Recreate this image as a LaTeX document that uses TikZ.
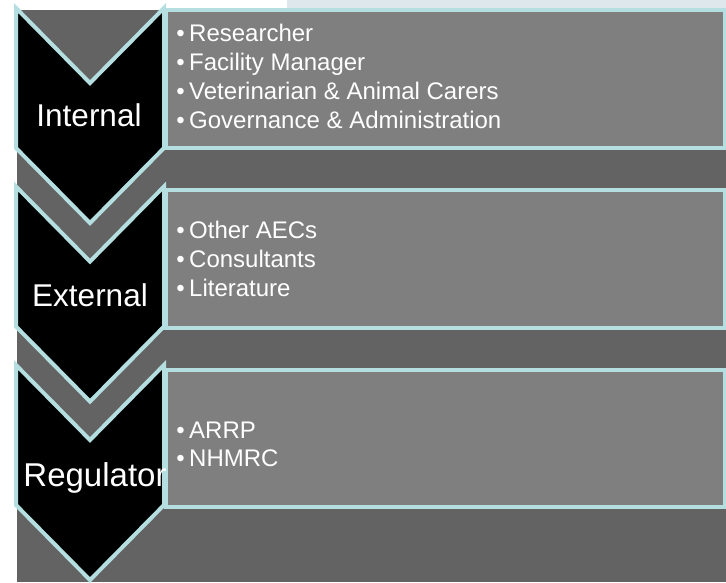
\documentclass[tikz,border=0pt]{standalone}
\usepackage{fontspec}
\setmainfont{Liberation Sans}
\definecolor{bgray}{HTML}{636363}
\definecolor{boxgray}{HTML}{7F7F7F}
\definecolor{edgecyan}{HTML}{B4DEE0}
\definecolor{stripcol}{HTML}{DEE7EC}
\begin{document}
\begin{tikzpicture}[x=1pt,y=-1pt,
  chev/.style={fill=black,draw=edgecyan,line width=4pt,line join=miter},
  itembox/.style={fill=boxgray,draw=edgecyan,line width=4pt},
  chevlabel/.style={text=white,inner sep=0pt,anchor=base,font=\fontsize{31.5}{32}\selectfont},
  bulletmark/.style={text=white,inner sep=0pt,anchor=base,font=\fontsize{24}{24}\selectfont},
  itemtext/.style={text=white,inner sep=0pt,anchor=base west,font=\fontsize{24}{24}\selectfont}]
\useasboundingbox (0,0) rectangle (726,582);
\fill[stripcol] (287,0) rectangle (726,10);
\fill[bgray] (17,10) rectangle (726,582);
% text boxes
\draw[itembox] (166,10) rectangle (725,148);
\draw[itembox] (166,190) rectangle (725,328);
\draw[itembox] (166,370) rectangle (725,507);
% chevrons
\foreach \t in {8,186.5,365}{
  \draw[chev] (16,\t) -- (90,\t+75) -- (164,\t) -- (164,\t+140) -- (90,\t+215) -- (16,\t+140) -- cycle;
}
% chevron labels
\node[chevlabel] (l1) at (89,126) {Internal};
\node[chevlabel] (l2) at (90,306) {External};
\node[chevlabel,font=\fontsize{33}{33}\selectfont] (l3) at (95,486) {Regulator};
% box 1 items
\foreach \y/\n/\s in {41/a1/Researcher, 70/a2/Facility Manager, 99/a3/Veterinarian \& Animal Carers, 128/a4/Governance \& Administration}{
  \node[bulletmark] (\n b) at (180.5,\y) {•};
  \node[itemtext] (\n) at (189,\y) {\s};
}
% box 2 items
\foreach \y/\n/\s in {238/b1/Other AECs, 267/b2/Consultants, 296/b3/Literature}{
  \node[bulletmark] (\n b) at (180.5,\y) {•};
  \node[itemtext] (\n) at (189,\y) {\s};
}
% box 3 items
\foreach \y/\n/\s in {438/c1/ARRP, 466/c2/NHMRC}{
  \node[bulletmark] (\n b) at (180.5,\y) {•};
  \node[itemtext] (\n) at (189,\y) {\s};
}
\end{tikzpicture}
\end{document}
